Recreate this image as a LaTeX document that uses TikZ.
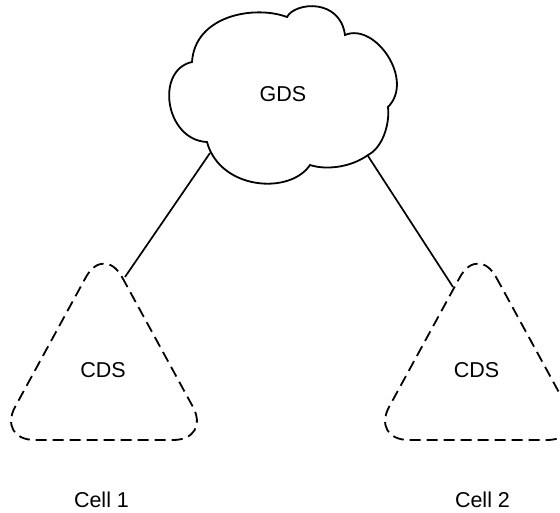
\documentclass[tikz,border=0pt]{standalone}
\usepackage{fontspec}
\setmainfont{Liberation Sans}
\begin{document}
\begin{tikzpicture}[x=1pt,y=-1pt,
  outline/.style={line width=1.8pt, black},
  dashedtri/.style={line width=1.8pt, black, dash pattern=on 11pt off 6pt, rounded corners=38pt},
  lbl/.style={font=\fontsize{21.5}{25}\selectfont, inner sep=0pt},
  conn/.style={line width=1.7pt, black}]
\useasboundingbox (0,0) rectangle (560,512);
\clip (0,0) rectangle (560,512);
% cloud
\draw[outline] (192,62) .. controls (195,15) and (255,5) .. (287,17)
  .. controls (295,2) and (340,-2) .. (345,35)
  .. controls (375,22) and (415,80) .. (388,107)
  .. controls (390,125) and (382,148) .. (368,155)
  .. controls (350,168) and (325,170) .. (310,165)
  .. controls (290,195) and (220,190) .. (207,142)
  .. controls (165,140) and (155,70) .. cycle;
\node[lbl] (gds) at (283,94) {GDS};
% triangles
\draw[dashedtri] (104,244) -- (211,440) -- (-3,440) -- cycle;
\draw[dashedtri] (478,244) -- (585,440) -- (371,440) -- cycle;
\node[lbl] (cds1) at (103,370) {CDS};
\node[lbl] (cds2) at (476.5,370) {CDS};
\node[lbl] (cell1) at (101.5,500) {Cell 1};
\node[lbl] (cell2) at (482.5,500) {Cell 2};
% connectors
\coordinate (gdsL) at (210,153);
\coordinate (gdsR) at (368,156);
\coordinate (cds1top) at (125,277);
\coordinate (cds2top) at (453,287);
\draw[conn] (gdsL) -- (cds1top);
\draw[conn] (gdsR) -- (cds2top);
\end{tikzpicture}
\end{document}
